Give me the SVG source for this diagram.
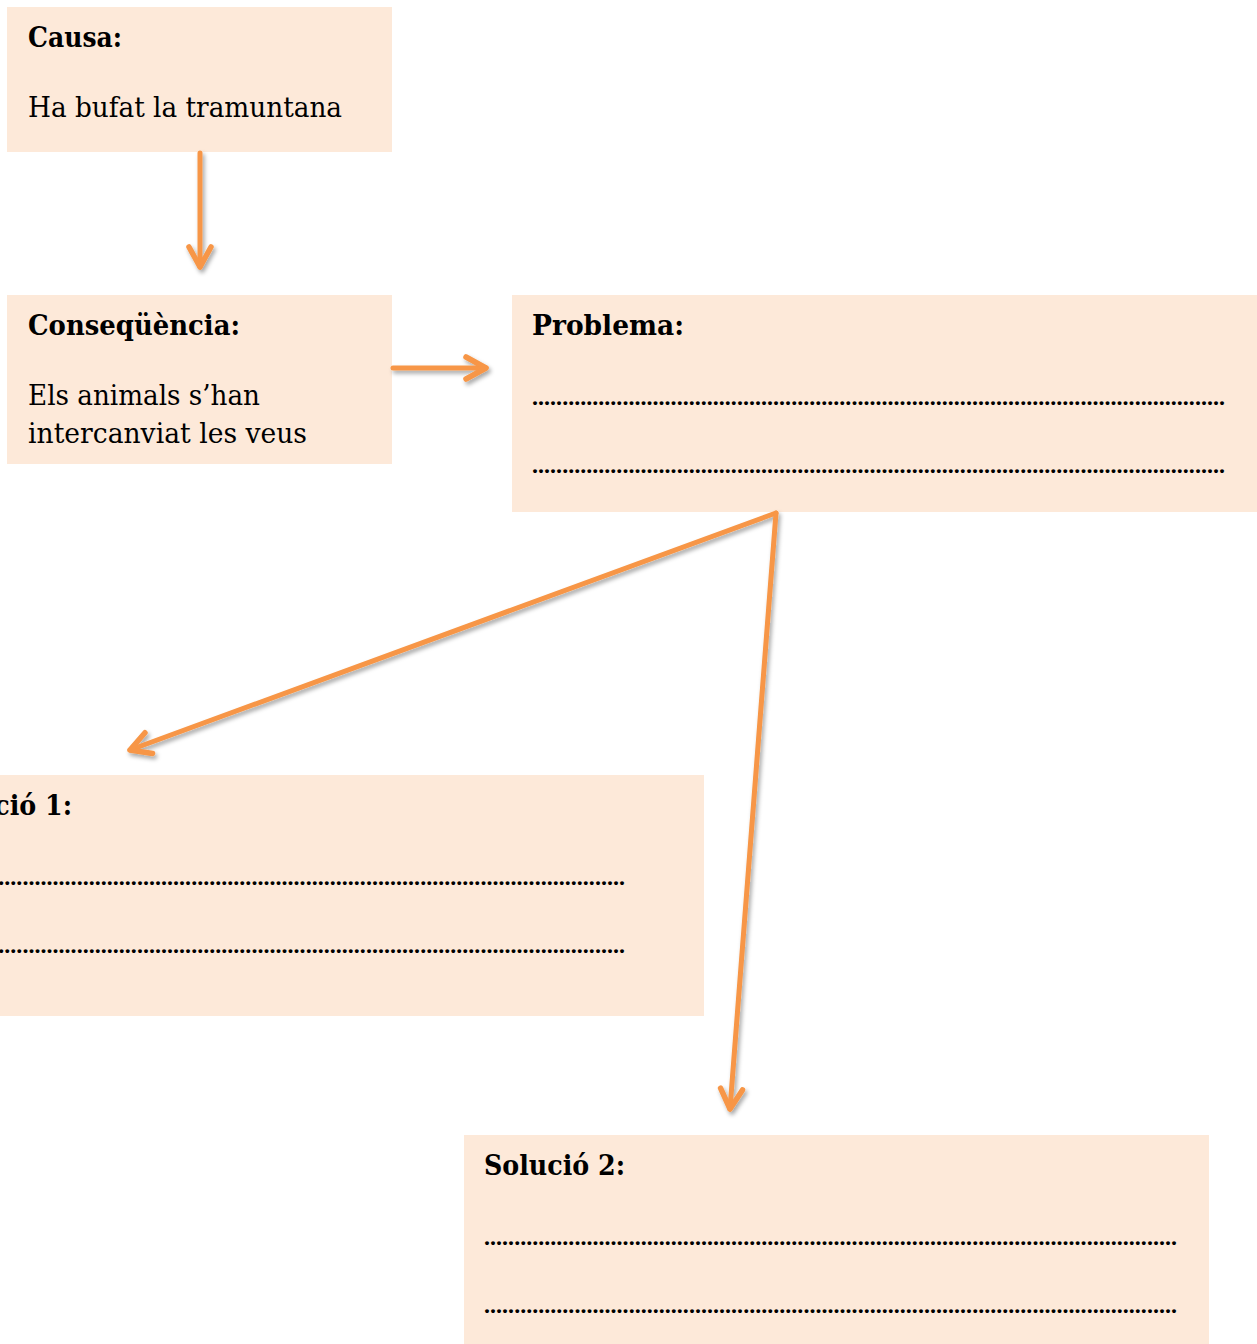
<svg xmlns="http://www.w3.org/2000/svg" width="1257" height="1344" viewBox="0 0 1257 1344">
<style>
.box{fill:#FDE9D9}
.t{font-family:"DejaVu Serif","Liberation Serif",serif;font-size:28px;fill:#000}
.b{font-weight:bold}
.dots{font-family:"Liberation Serif",serif;font-size:24px;fill:#000;font-weight:bold}
.conn{stroke:#F79646;stroke-width:5;fill:none;stroke-linecap:round;marker-end:url(#chev)}
</style>
<defs>
<filter id="sh" x="0" y="0" width="1257" height="1344" filterUnits="userSpaceOnUse">
<feDropShadow dx="2" dy="3" stdDeviation="2" flood-color="#000" flood-opacity="0.35"/>
</filter>
<marker id="chev" markerUnits="userSpaceOnUse" markerWidth="40" markerHeight="40" refX="0" refY="0" viewBox="-25 -20 30 40" orient="auto" overflow="visible">
<path d="M-20,-11 L0,0 L-20,11" fill="none" stroke="#F79646" stroke-width="5.5" stroke-linecap="round" stroke-linejoin="round"/>
</marker>
</defs>
<g id="causa">
<rect class="box" x="7" y="7" width="385" height="145"/>
<text class="t b" x="28" y="47" textLength="94" lengthAdjust="spacingAndGlyphs">Causa:</text>
<text class="t" x="28" y="117" textLength="314" lengthAdjust="spacingAndGlyphs">Ha bufat la tramuntana</text>
</g>
<g id="consequencia">
<rect class="box" x="7" y="295" width="385" height="169"/>
<text class="t b" x="28" y="335" textLength="212" lengthAdjust="spacingAndGlyphs">Conseqüència:</text>
<text class="t" x="28" y="405" textLength="232" lengthAdjust="spacingAndGlyphs">Els animals s’han</text>
<text class="t" x="28" y="443" textLength="279" lengthAdjust="spacingAndGlyphs">intercanviat les veus</text>
</g>
<g id="problema">
<rect class="box" x="512" y="295" width="745" height="217"/>
<text class="t b" x="532" y="335" textLength="152" lengthAdjust="spacingAndGlyphs">Problema:</text>
<text class="dots" x="532" y="405" textLength="693" lengthAdjust="spacing">...................................................................................................................</text>
<text class="dots" x="532" y="473" textLength="693" lengthAdjust="spacing">...................................................................................................................</text>
</g>
<g id="solucio1">
<rect class="box" x="-90" y="775" width="794" height="241"/>
<text class="t b" x="-69" y="815" textLength="141" lengthAdjust="spacingAndGlyphs">Solució 1:</text>
<text class="dots" x="-68" y="885" textLength="693" lengthAdjust="spacing">...................................................................................................................</text>
<text class="dots" x="-68" y="953" textLength="693" lengthAdjust="spacing">...................................................................................................................</text>
</g>
<g id="solucio2">
<rect class="box" x="464" y="1135" width="745" height="215"/>
<text class="t b" x="484" y="1175" textLength="141" lengthAdjust="spacingAndGlyphs">Solució 2:</text>
<text class="dots" x="484" y="1245" textLength="693" lengthAdjust="spacing">...................................................................................................................</text>
<text class="dots" x="484" y="1313" textLength="693" lengthAdjust="spacing">...................................................................................................................</text>
</g>
<g id="connectors" filter="url(#sh)">
<path class="conn" d="M200,153 L200,267"/>
<path class="conn" d="M393,368 L486,368"/>
<path class="conn" d="M776,513 L130,750"/>
<path class="conn" d="M776,513 L730,1109"/>
</g>
</svg>
